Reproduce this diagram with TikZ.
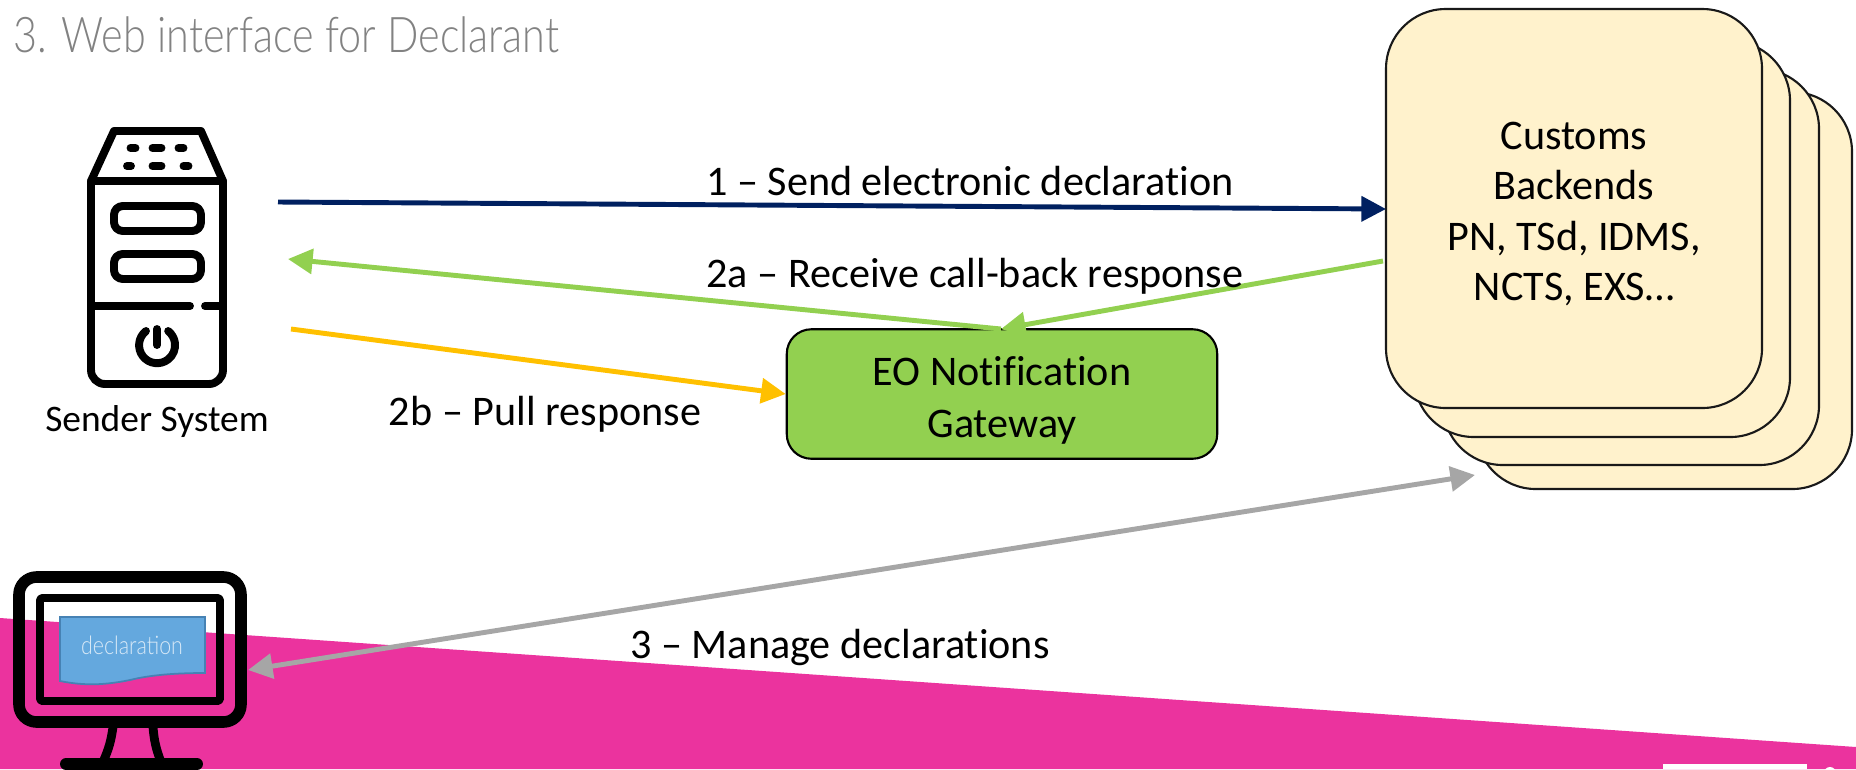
\documentclass[tikz,border=0pt]{standalone}
\usepackage{fontspec}
\setmainfont[Ligatures={TeX,NoCommon}]{Carlito}
\newfontfamily\titlefont[FakeStretch=0.84]{Lato Light}
\usetikzlibrary{arrows.meta}
\definecolor{pinkband}{RGB}{235,51,158}
\definecolor{navyline}{RGB}{0,32,96}
\definecolor{greenfill}{RGB}{146,208,80}
\definecolor{amberline}{RGB}{255,192,0}
\definecolor{greyline}{RGB}{166,166,166}
\definecolor{creamfill}{RGB}{255,242,204}
\definecolor{bluedoc}{RGB}{100,168,222}
\definecolor{blueedge}{RGB}{70,130,180}
\definecolor{titlegrey}{RGB}{130,130,130}
\tikzset{
  msglabel/.style={font=\fontsize{24}{28.5}\selectfont, inner sep=0pt},
  backend/.style={draw=black!90, line width=1.2pt, fill=creamfill, rounded corners=34pt},
  flow/.style={line width=2.8pt, -{Triangle[length=14pt,width=14pt]}},
  icon/.style={draw=black, line width=4.5pt, line cap=round, line join=round},
}
\begin{document}
\begin{tikzpicture}[x=0.02cm, y=-0.02cm]
\useasboundingbox (0,0) rectangle (1856,769);
% band
\fill[pinkband] (0,618) -- (1856,747) -- (1856,769) -- (0,769) -- cycle;
\fill[white] (1663,764) rectangle (1807,769);
\fill[white] (1830,773) circle (6);
\node[font=\fontsize{28}{32}\titlefont\selectfont, text=titlegrey, anchor=base west, inner sep=0pt] (title) at (13,52) {3. Web interface for Declarant};
% backends
\foreach \xa/\ya/\xb/\yb in {1476/92/1852/489, 1443/69/1819/465, 1414/41/1790/437, 1386/9/1762/408}
  \draw[backend] (\xa,\ya) rectangle (\xb,\yb);
\coordinate (backendw) at (1386,209);
\coordinate (backendg) at (1383,261);
\node[msglabel, align=center] (backend) at (1574,214) {Customs\\Backends\\PN, TSd, IDMS,\\NCTS, EXS\ldots};
% gateway
\node[msglabel, draw=black, line width=1.2pt, fill=greenfill, rounded corners=14pt, minimum width=245pt, minimum height=73.7pt, align=center] (gateway) at (1002,394) {\rule{0pt}{24pt}EO Notification\\[1pt]Gateway};
% server icon
\coordinate (sender1) at (278,202);
\coordinate (sender2) at (288,259);
\coordinate (sender3) at (291,329);
\draw[icon] (91,181) -- (114,131) -- (201,131) -- (223,181);
\draw[icon] (91,181) -- (223,181);
\draw[icon, rounded corners=8pt, line cap=butt] (91,181) -- (91,384) -- (223,384) -- (223,181);
\draw[icon, rounded corners=5pt] (114,206) rectangle (201,231);
\draw[icon, rounded corners=5pt] (114,254) rectangle (201,279);
\draw[icon] (91,306) -- (190,306) (205,306) -- (223,306);
\draw[icon] (157,329) -- (157,345);
\draw[icon] (146,331) arc[start angle=232, end angle=-52, radius=18];
\foreach \x/\y/\l in {133/148/5,157/148/9,181/148/5,129/166/4,157/166/9,186/166/5}
  \draw[line width=4.5pt, line cap=round] (\x-\l*0.5,\y) -- (\x+\l*0.5,\y);
\node[font=\fontsize{21.3}{25}\selectfont, inner sep=0pt] (sender) at (157,422) {Sender System};
% monitor icon
\draw[icon, line width=6.6pt, rounded corners=10pt] (19,577) rectangle (241,722);
\draw[icon, line width=4.5pt, line cap=butt, rounded corners=1pt] (40,598) rectangle (220,701);
\draw[draw=blueedge, line width=1pt, fill=bluedoc] (60,617) -- (205,617) -- (205,673) .. controls (175,673) and (150,675) .. (130,680) .. controls (105,685) and (85,686) .. (60,681) -- cycle;
\node[inner sep=0pt, text=white!75!bluedoc, font=\fontsize{14.5}{17}\titlefont\selectfont] (doc) at (132,645) {declaration};
\draw[icon, line width=5pt] (113,727) to[bend left=8] (103,762);
\draw[icon, line width=5pt] (153,727) to[bend right=8] (161,762);
\draw[icon, line width=6.8pt] (66,764) -- (197,764);
\coordinate (monitor) at (248,670);
% connectors
\coordinate (gateway1) at (1001,329);
\coordinate (stack) at (1475,475);
\draw[flow, navyline] (sender1) -- (backendw);
\draw[flow, greenfill] (gateway1) -- (sender2);
\draw[flow, greenfill] (backendg) -- (gateway1);
\draw[flow, amberline] (sender3) -- (gateway.west);
\draw[line width=2.8pt, greyline, {Triangle[length=14pt,width=14pt]}-{Triangle[length=14pt,width=14pt]}] (monitor) -- (stack);
% labels
\node[msglabel] (msg1) at (970,181) {1 -- Send electronic declaration};
\node[msglabel] (msg2a) at (975,276) {2a -- Receive call-back response};
\node[msglabel] (msg2b) at (545,414) {2b -- Pull response};
\node[msglabel] (msg3) at (840,647) {3 -- Manage declarations};
\end{tikzpicture}
\end{document}
